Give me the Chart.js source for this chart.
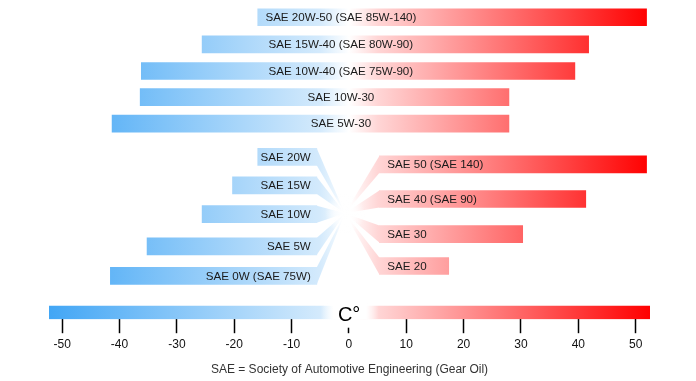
<!DOCTYPE html>
<html><head><meta charset="utf-8">
<script src="https://cdn.jsdelivr.net/npm/chart.js@4/dist/chart.umd.min.js"></script>
<style>html,body{margin:0;padding:0;background:#fff}#wrap{width:696px;height:381px;position:relative}</style>
</head><body><div id="wrap"><canvas id="c"></canvas></div>
<script>
// ---- data ----
const topLabels = ['SAE 20W-50 (SAE 85W-140)','SAE 15W-40 (SAE 80W-90)','SAE 10W-40 (SAE 75W-90)','SAE 10W-30','SAE 5W-30'];
const topMin = [-15.9,-25.6,-36.2,-36.4,-41.3];
const topMax = [51.9,41.8,39.4,27.9,27.9];
const winterLabels = ['SAE 20W','SAE 15W','SAE 10W','SAE 5W','SAE 0W (SAE 75W)'];
const winterMin = [-15.9,-20.3,-25.6,-35.2,-41.6];
const winterEnd = -5.6;
const summerLabels = ['SAE 50 (SAE 140)','SAE 40 (SAE 90)','SAE 30','SAE 20'];
const summerStart = 5.3;
const summerMax = [51.9,41.3,30.3,17.4];
const tickValues = [-50,-40,-30,-20,-10,0,10,20,30,40,50];
const scaleRange = [-52.3, 52.5];
const axisUnit = 'C°';
const footnote = 'SAE = Society of Automotive Engineering (Gear Oil)';

// ---- layout slots on the hidden vertical axis ----
const topRows = [0.65,1.67,2.67,3.65,4.65];
const winterRows = [5.90,6.97,8.05,9.26,10.37];
const summerRows = [6.18,7.48,8.80,10.0];
const scaleRow = 11.75;
const fanCenter = {x:-0.7, y:8.02};

const FONT = '"Liberation Sans", Arial, sans-serif';
let gradCache = null;
function grad(chart){
  const xs = chart.scales && chart.scales.x;
  if(!xs || !chart.chartArea) return '#ddd';
  const a = xs.getPixelForValue(scaleRange[0]), b = xs.getPixelForValue(scaleRange[1]);
  const z0 = xs.getPixelForValue(0);
  if(!isFinite(a) || !isFinite(b) || !isFinite(z0) || b<=a) return '#ddd';
  const key = a+'_'+b;
  if(gradCache && gradCache.key===key) return gradCache.g;
  const g = chart.ctx.createLinearGradient(a,0,b,0);
  const f = v => (xs.getPixelForValue(v)-a)/(b-a);
  g.addColorStop(0,'rgb(66,166,245)');
  g.addColorStop(f(-5),'rgb(212,234,252)');
  g.addColorStop(f(0),'rgb(255,255,255)');
  g.addColorStop(f(5),'rgb(255,214,214)');
  g.addColorStop(1,'rgb(255,0,0)');
  gradCache = {key,g};
  return g;
}
const bg = c => grad(c.chart);

const fanPlugin = {
  id:'fans',
  beforeDatasetsDraw(chart){
    const ctx = chart.ctx, xs = chart.scales.x, ys = chart.scales.y;
    const cx = xs.getPixelForValue(fanCenter.x), cy = ys.getPixelForValue(fanCenter.y);
    ctx.save();
    ctx.fillStyle = grad(chart);
    [[1,winterEnd],[2,summerStart]].forEach(([di,edge])=>{
      const ex = xs.getPixelForValue(edge);
      chart.getDatasetMeta(di).data.forEach(bar=>{
        const p = bar.getProps(['y','height'],true);
        const h = p.height/2;
        ctx.beginPath();
        ctx.moveTo(ex,p.y-h); ctx.lineTo(cx,cy); ctx.lineTo(ex,p.y+h); ctx.closePath();
        ctx.fill();
      });
    });
    const r = ctx.createRadialGradient(cx,cy,0,cx,cy,20);
    r.addColorStop(0,'rgba(255,255,255,1)');
    r.addColorStop(0.5,'rgba(255,255,255,0.7)');
    r.addColorStop(1,'rgba(255,255,255,0)');
    ctx.fillStyle = r;
    ctx.fillRect(cx-22,cy-22,44,44);
    ctx.restore();
  }
};

const labelPlugin = {
  id:'labels',
  afterDatasetsDraw(chart){
    const ctx = chart.ctx, xs = chart.scales.x;
    ctx.save();
    ctx.font = '11.6px '+FONT;
    ctx.fillStyle = '#1a1a1a';
    ctx.textBaseline = 'middle';
    chart.getDatasetMeta(0).data.forEach((bar,i)=>{
      ctx.textAlign='center';
      ctx.fillText(topLabels[i], xs.getPixelForValue(-1.4), bar.y+0.5);
    });
    chart.getDatasetMeta(1).data.forEach((bar,i)=>{
      ctx.textAlign='right';
      ctx.fillText(winterLabels[i], xs.getPixelForValue(winterEnd)-6, bar.y+0.5);
    });
    chart.getDatasetMeta(2).data.forEach((bar,i)=>{
      ctx.textAlign='left';
      ctx.fillText(summerLabels[i], xs.getPixelForValue(summerStart)+8, bar.y+0.5);
    });
    ctx.restore();
  },
  afterDraw(chart){
    const ctx = chart.ctx, xs = chart.scales.x, ca = chart.chartArea;
    const x0 = xs.getPixelForValue(0);
    ctx.save();
    const L = x0-28, R = x0+30;
    const wg = ctx.createLinearGradient(L,0,R,0);
    wg.addColorStop(0,'rgba(255,255,255,0)');
    wg.addColorStop(0.22,'rgba(255,255,255,1)');
    wg.addColorStop(0.78,'rgba(255,255,255,1)');
    wg.addColorStop(1,'rgba(255,255,255,0)');
    ctx.fillStyle = wg;
    ctx.fillRect(L, ca.bottom-16, R-L, 16);
    ctx.fillStyle = '#fff';
    ctx.fillRect(x0-6, ca.bottom, 12, 8.5);
    ctx.fillStyle='#000';
    ctx.font='20px '+FONT;
    ctx.textAlign='left';
    ctx.textBaseline='alphabetic';
    ctx.fillText(axisUnit, x0-11, ca.bottom+2);
    ctx.restore();
  }
};

const ds = (data, thick) => ({data, backgroundColor:bg, borderWidth:0, borderSkipped:false, barThickness:thick, grouped:false});

new Chart(document.getElementById('c'), {
  type:'bar',
  data:{
    datasets:[
      ds(topRows.map((y,i)=>({y, x:[topMin[i], topMax[i]]})), 17),
      ds(winterRows.map((y,i)=>({y, x:[winterMin[i], winterEnd]})), 17),
      ds(summerRows.map((y,i)=>({y, x:[summerStart, summerMax[i]]})), 17),
      ds([{y:scaleRow, x:[scaleRange[0], scaleRange[1]]}], 13)
    ]
  },
  options:{
    indexAxis:'y',
    responsive:true, maintainAspectRatio:false, animation:false,
    layout:{padding:{left:49,right:46,top:0,bottom:0}},
    plugins:{legend:{display:false}, tooltip:{enabled:false}},
    scales:{
      x:{
        type:'linear', min:scaleRange[0], max:scaleRange[1], position:'bottom',
        afterBuildTicks: s => { s.ticks = tickValues.map(v=>({value:v})); },
        grid:{drawOnChartArea:false, drawTicks:true, tickLength:14, tickColor:'#000', tickWidth:1.5},
        border:{display:false},
        ticks:{color:'#111', font:{family:FONT, size:12}, padding:4, maxRotation:0, autoSkip:false},
        title:{display:true, text:footnote, color:'#333', font:{family:FONT, size:12}, padding:{top:7,bottom:4}}
      },
      y:{type:'linear', min:0, max:12, reverse:true, display:false, offset:false}
    }
  },
  plugins:[fanPlugin, labelPlugin]
});
</script></body></html>
